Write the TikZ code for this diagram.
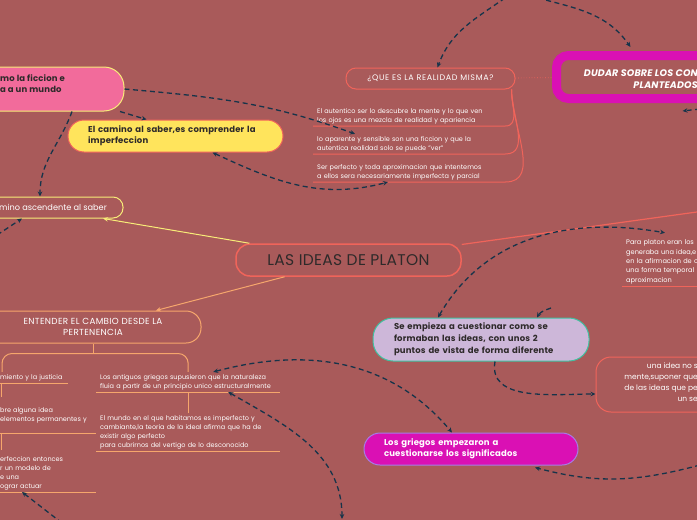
\documentclass[tikz,border=0pt]{standalone}
\usepackage{fontspec}
\setmainfont{Poppins}
\usepackage{tikz}
\usetikzlibrary{arrows.meta}
\definecolor{bgred}{HTML}{A95A5A}
\definecolor{navy}{HTML}{17344A}
\definecolor{salmon}{HTML}{F0645A}
\definecolor{peach}{HTML}{F6A66C}
\definecolor{lemon}{HTML}{F8EC78}
\definecolor{rosa}{HTML}{F26B9B}
\definecolor{sunny}{HTML}{FFE45C}
\definecolor{lila}{HTML}{CDB7D9}
\definecolor{mint}{HTML}{3FC1A0}
\definecolor{fucsia}{HTML}{DA10B4}
\definecolor{violeta}{HTML}{A57DE6}
\definecolor{ink}{HTML}{2E2A2A}

\begin{document}
\begin{tikzpicture}[x=1pt,y=-1pt,>={Stealth[length=5pt,width=4.5pt]},
  rel/.style={navy,line width=1.3pt,dash pattern=on 5pt off 3.5pt,->},
  birel/.style={rel,<->},
  box/.style={draw,line width=1pt,rounded corners=#1},box/.default=10pt,
  item/.style={text=white,font=\fontsize{6.5}{9}\selectfont,align=left,inner xsep=4pt,inner ysep=2pt},
  hdr/.style={font=\bfseries\fontsize{8.5}{11}\selectfont\addfontfeature{LetterSpace=2},align=left}]
\path[use as bounding box,fill=bgred] (0,0) rectangle (697,520);
\clip (0,0) rectangle (697,520);
\node[box=20pt,draw=lemon,fill=rosa,minimum width=190pt,minimum height=44pt] (pk) at (29,89) {};
\node[hdr,anchor=west,text=ink,inner sep=0pt] at (0,84) {mo la ficcion e\\a a un mundo};
\node[box=16pt,draw=salmon,fill=sunny,minimum height=32pt,text width=175pt,inner xsep=20pt,hdr,text=ink] (yw) at (175.5,136) {El camino al saber,es comprender la\\imperfeccion};
\node[box,draw=lemon,minimum width=170pt,minimum height=21pt] (asc) at (38,207.5) {};
\node[anchor=west,text=white,font=\fontsize{8.2}{10}\selectfont,inner sep=0pt] at (-1,207) {mino ascendente al saber};
\node[box=14pt,draw=salmon,line width=1.5pt,minimum width=225pt,minimum height=32pt,text=ink,font=\fontsize{15.5}{17}\selectfont\addfontfeature{LetterSpace=2}] (plat) at (348.5,260) {LAS IDEAS DE PLATON};
\node[box,draw=salmon,minimum width=169pt,minimum height=21pt,text=white,font=\fontsize{8}{9}\selectfont\addfontfeature{LetterSpace=8}] (rq) at (430.5,78.5) {¿QUE ES LA REALIDAD MISMA?};
\foreach \n/\y/\t in {1/126/{El autentico ser lo descubre la mente y lo que ven\\los ojos es una mezcla de realidad y apariencia},
  2/154/{lo aparente y sensible son una ficcion y que la\\autentica realidad solo se puede "ver"},
  3/182/{Ser perfecto y toda aproximacion que intentemos\\a ellos sera necesariamente imperfecta y parcial}}{%
  \node[item,anchor=south west,text width=184pt] (r\n) at (313,\y) {\t};
  \draw[salmon,line width=1pt] ([xshift=-4pt]rq.south east) to[out=-90,in=0] (r\n.south east) -- (r\n.south west);}
\node[draw=fucsia,line width=9pt,rounded corners=12pt,minimum width=200pt,minimum height=43pt] (dud) at (656.5,77) {};
\node[anchor=east,align=right,text=white,font=\bfseries\itshape\fontsize{9.5}{12}\selectfont\addfontfeature{LetterSpace=2},inner sep=0pt] at (698,79) {DUDAR SOBRE LOS CON\\PLANTEADOS};
\draw[salmon,dotted,line width=.7pt] (rq) -- (dud);
\coordinate (cR) at (699,211.7);
\draw[salmon,line width=1.2pt] (plat) -- (cR);
\node[item,anchor=south west,text width=80pt,font=\fontsize{6.6}{9.3}\selectfont] (pp) at (622,286) {Para platon eran los\\generaba una idea,e\\en la afirmacion de c\\una forma temporal\\aproximacion};
\draw[salmon,line width=1pt] (pp.south west) -- (pp.south east);
\node[box=15pt,draw=peach,minimum width=216pt,minimum height=32pt,text=white,align=center,font=\fontsize{8.8}{11}\selectfont\addfontfeature{LetterSpace=4}] (ent) at (93,327) {ENTENDER EL CAMBIO DESDE LA\\PERTENENCIA};
\draw[lemon,line width=1pt,->] (plat) -- (asc);
\draw[peach,line width=1pt,->] (plat) -- (ent);
\node[item,anchor=south west,text width=64pt] (e1) at (-4,383) {miento y la justicia};
\node[item,anchor=south west,text width=92pt] (e2) at (-4,433) {bre alguna idea\\elementos permanentes y\\~};
\node[item,anchor=south west,text width=92pt] (e3) at (-4,492) {erfeccion entonces\\r un modelo de\\e una\\ograr actuar};
\node[item,anchor=south west,text width=176pt] (a1) at (96,392) {Los antiguos griegos supusieron que la naturaleza\\fluia a partir de un principio unico estructuralmente};
\node[item,anchor=south west,text width=176pt] (a2) at (96,451) {El mundo en el que habitamos es imperfecto y\\cambiante,la teoria de la ideal afirma que ha de\\existir algo perfecto\\para cubrirnos del vertigo de lo desconocido};
\foreach \e in {e1,e2,e3,a1,a2}
  \draw[peach,line width=1pt] (\e.south west) -- (\e.south east);
\draw[peach,line width=1pt] (ent.south) -- ++(0,10) coordinate (bk);
\draw[peach,line width=1pt,rounded corners=10pt] ([xshift=6pt]e1.north west) |- (bk) -| (a1.north);
\draw[peach,line width=1pt] ([xshift=5pt]e1.south west) -- ++(0,14);
\draw[peach,line width=1pt] ([xshift=5pt]e2.south west) -- ++(0,17);
\draw[peach,line width=1pt] (a1.south) -- (a2.north);
\node[box=20pt,draw=mint,fill=lila,minimum height=43pt,text width=174pt,inner xsep=21pt,hdr,text=ink,font=\bfseries\fontsize{8.5}{12}\selectfont\addfontfeature{LetterSpace=2}] (lav) at (481,339.5) {Se empieza a cuestionar como se\\formaban las ideas, con unos 2\\puntos de vista de forma diferente};
\node[box=15pt,draw=salmon,minimum width=200pt,minimum height=55pt] (sal) at (696,384.5) {};
\node[anchor=north east,align=right,text=white,font=\fontsize{7.5}{11}\selectfont,inner sep=0pt] at (698,363) {una idea no s\\mente,suponer que\\de las ideas que pe\\un se};
\node[box=16pt,draw=violeta,fill=fucsia,minimum height=32pt,text width=174pt,inner xsep=20pt,hdr,text=white] (mag) at (471,449) {Los griegos empezaron a\\cuestionarse los significados};
\coordinate (c1) at (505,-2);
\coordinate (c2) at (538,-2);
\coordinate (c3) at (-3,235);
\coordinate (c4) at (551,308);
\coordinate (c5) at (342,519);
\coordinate (c6) at (62,523);
\coordinate (c7) at (700,109);
\coordinate (c8) at (700,465);
\draw[rel] (c1) to[out=215,in=70] ([xshift=7pt]rq.north);
\draw[rel] (c2) to[out=-15,in=125] ([shift={(-26,-4)}]dud.north);
\draw[rel] (pk.east) to[out=-5,in=160] ([shift={(42,0)}]r2.north west);
\draw[rel] ([shift={(91,0)}]pk.south) -- ([shift={(-29,0)}]yw.north);
\draw[rel] ([shift={(43,0)}]pk.south) to[out=-110,in=90] ([shift={(2,0)}]asc.north);
\draw[rel] (c3) -- ([shift={(-16,0)}]asc.south);
\draw[birel] ([shift={(37,0)}]yw.south) to[out=-25,in=195] ([shift={(75,0)}]r3.south west);
\draw[birel] ([shift={(-43,0)}]lav.north) to[out=60,in=170] ([shift={(43,-5)}]pp.north west);
\draw[rel] (c4) to[out=200,in=60] ([shift={(56,0)}]lav.north);
\draw[rel] ([shift={(14,0)}]lav.south) to[out=-100,in=180] ([shift={(0,9.5)}]sal.west);
\draw[birel] ([shift={(25,0)}]a1.north) to[out=15,in=130] ([shift={(-19,0)}]mag.north);
\draw[birel] ([shift={(40,0)}]a1.south) to[out=-30,in=90] (c5);
\draw[rel] (c6) -- ([shift={(26,0)}]e3.south west);
\draw[rel] (c7) -- ([shift={(26,8)}]dud.south);
\draw[rel] (c8) to[out=195,in=-15] ([shift={(64,2)}]mag.south);
\end{tikzpicture}
\end{document}
